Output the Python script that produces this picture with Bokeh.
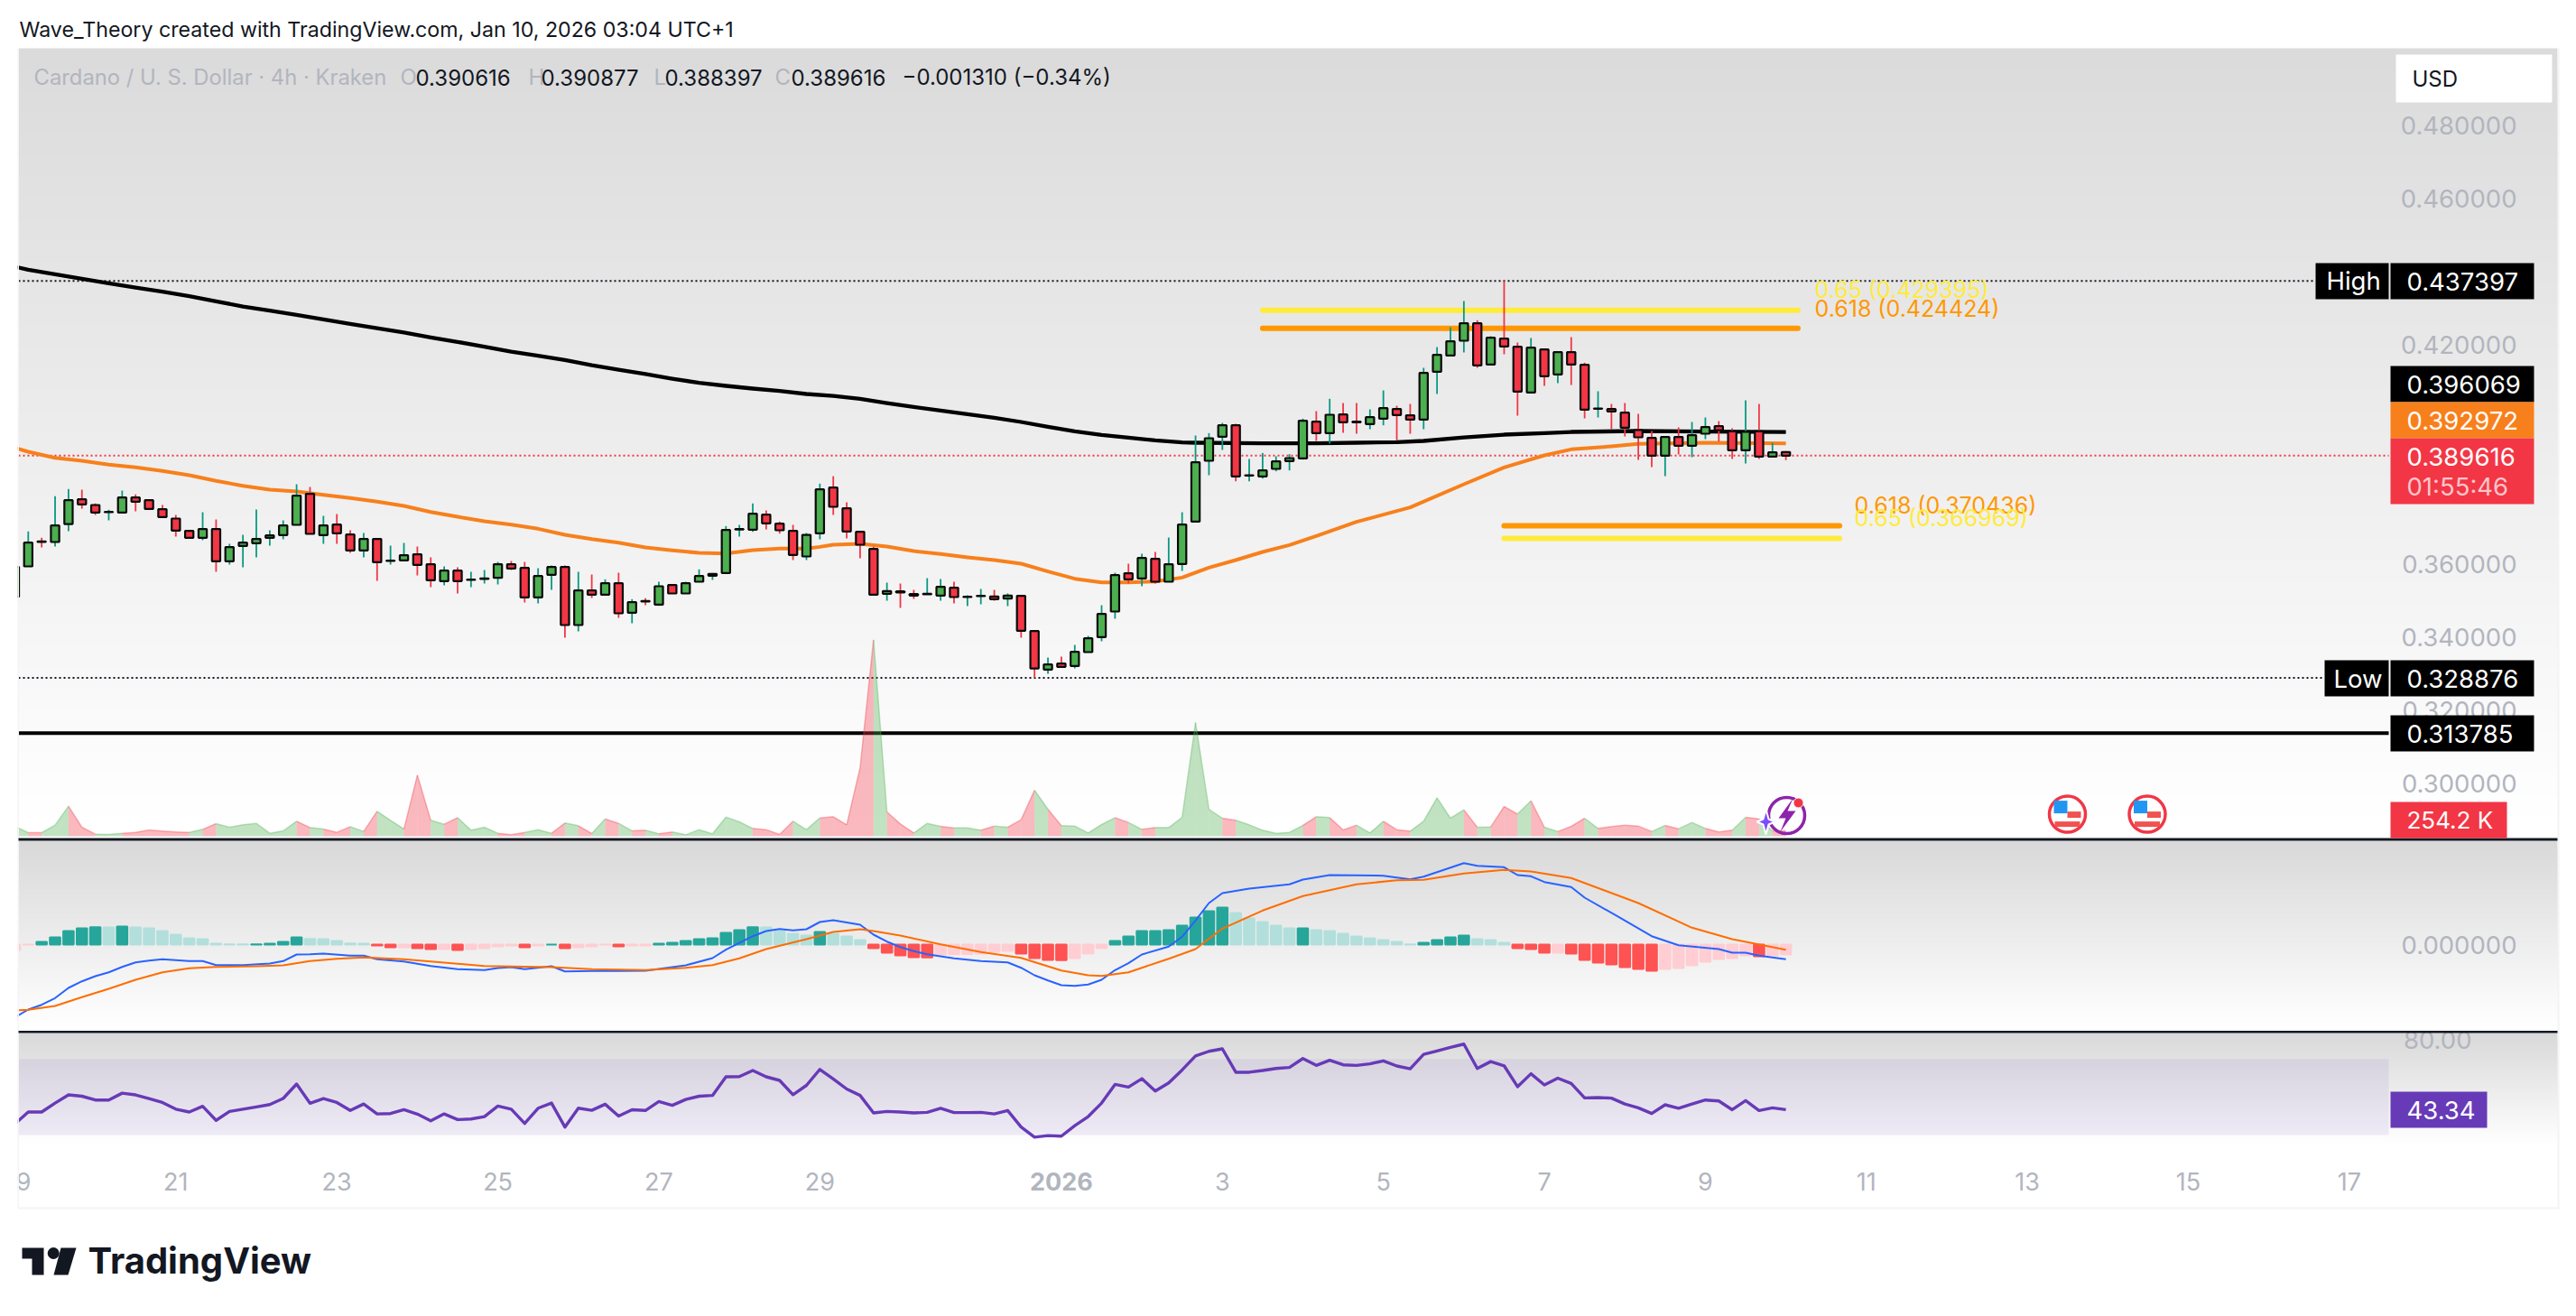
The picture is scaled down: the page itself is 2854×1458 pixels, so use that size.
from bokeh.plotting import figure
from bokeh.models import Range1d, LinearAxis, FixedTicker, NumeralTickFormatter
from bokeh.core.properties import value
from bokeh.embed import file_html
from bokeh.resources import INLINE

# ---------------- data ----------------
open_ = [.35104,.35935,.36618,.36601,.37094,.37769,.37613,.37415,.37407,.37818,
.37744,.37498,.37243,.36905,.36716,.36955,.36075,.36494,.36568,.36716,
.36790,.37070,.37917,.36790,.37078,.36807,.36371,.36683,.36083,.36099,
.36264,.35992,.35532,.35820,.35565,.35590,.35622,.35992,.35894,.35088,
.35705,.35918,.34331,.35277,.35162,.35474,.34668,.34989,.34890,.35425,
.35195,.35515,.35680,.35754,.36946,.36938,.37349,.37103,.36905,.36206,
.36840,.38090,.37522,.36881,.36412,.35186,.35252,.35178,.35170,.35137,
.35351,.35096,.35121,.35112,.35055,.35129,.34166,.33114,.33278,.33212,
.33591,.34002,.34701,.35746,.35606,.36140,.35515,.36001,.37160,.38822,
.39480,.39792,.38419,.38394,.38600,.38814,.38888,.39891,.39578,.40088,
.39891,.39825,.39973,.40236,.40064,.39949,.41256,.41700,.42104,.42581,
.41454,.42161,.41939,.40689,.41865,.41182,.41791,.41446,.40245,.40236,
.40138,.39661,.39447,.38962,.39472,.39233,.39562,.39768,.39628,.39110,
.39628,.38937,.390616]
high = [.35918,.36889,.36716,.37851,.38049,.38032,.37654,.37481,.38007,.37901,
.37744,.37613,.37341,.36905,.37415,.37218,.36552,.36798,.37489,.36922,
.37193,.38180,.38106,.37317,.37366,.36922,.36848,.36683,.36502,.36576,
.36478,.36182,.35935,.35910,.35787,.35836,.36058,.36083,.36058,.35885,
.35959,.35959,.35787,.35713,.35581,.35762,.35038,.35063,.35515,.35425,
.35515,.35853,.35754,.37037,.37070,.37654,.37465,.37160,.37070,.36848,
.38197,.38402,.37687,.36881,.36469,.35491,.35466,.35293,.35614,.35589,
.35515,.35145,.35318,.35293,.35195,.35129,.34166,.33443,.33467,.33788,
.34035,.34874,.35762,.36009,.36280,.36330,.36724,.37415,.39513,.39578,
.39858,.39834,.38871,.39036,.38945,.39003,.39973,.40179,.40516,.40401,
.40401,.40228,.40746,.40327,.40376,.41363,.41931,.42474,.43189,.42663,
.42227,.43740,.42054,.42178,.41865,.41791,.42202,.41503,.40722,.40376,
.40401,.40105,.39636,.39472,.39735,.39883,.40006,.39907,.39710,.40475,
.40376,.39315,.390877]
low = [.35104,.35935,.36453,.36478,.36897,.37514,.37341,.37193,.37407,.37440,
.37506,.37284,.36749,.36716,.36650,.35787,.35984,.35910,.36182,.36502,
.36675,.37070,.36823,.36552,.36552,.36305,.36182,.35540,.35984,.36099,
.35688,.35367,.35417,.35195,.35367,.35466,.35441,.35836,.34948,.34923,
.35293,.33985,.34158,.35071,.35162,.34528,.34380,.34874,.34857,.35195,
.35195,.35515,.35565,.35754,.36749,.36881,.36946,.36831,.36107,.36107,
.36675,.37341,.36700,.36157,.35162,.34997,.34800,.35046,.35170,.34997,
.34923,.34849,.34898,.34997,.34849,.33985,.32888,.32998,.33188,.33146,
.33591,.33887,.34504,.35466,.35392,.35466,.35515,.35811,.37160,.38427,
.39118,.38262,.38262,.38336,.38534,.38559,.38855,.39365,.39291,.39587,
.39562,.39685,.39792,.39381,.39562,.39685,.40648,.41700,.41783,.41363,
.41454,.41733,.40055,.40689,.40870,.40944,.40894,.39981,.40006,.39685,
.39488,.38847,.38649,.38402,.38994,.38920,.39414,.39348,.38871,.38748,
.38871,.38937,.388397]
close = [.35918,.36585,.36601,.37053,.37744,.37629,.37407,.37423,.37818,.37703,
.37506,.37284,.36914,.36716,.36955,.36075,.36461,.36585,.36683,.36782,
.37053,.37868,.36823,.37053,.36840,.36371,.36683,.36050,.36091,.36239,
.35976,.35556,.35820,.35532,.35573,.35606,.35992,.35877,.35088,.35672,
.35918,.34331,.35277,.35162,.35474,.34652,.34956,.34973,.35392,.35195,
.35474,.35672,.35729,.36930,.36955,.37374,.37111,.36922,.36247,.36798,
.38040,.37563,.36889,.36527,.35162,.35260,.35219,.35137,.35186,.35376,
.35096,.35104,.35129,.35038,.35137,.34175,.33146,.33254,.33188,.33599,
.33969,.34635,.35696,.35581,.36165,.35515,.35992,.37078,.38781,.39439,
.39792,.38394,.38427,.38559,.38805,.38896,.39916,.39578,.40080,.39875,
.39875,.40014,.40261,.40072,.39949,.41223,.41717,.42087,.42581,.41429,
.42186,.41947,.40713,.41914,.41133,.41791,.41454,.40220,.40253,.40171,
.39726,.39463,.38962,.39472,.39233,.39521,.39743,.39661,.39110,.39611,
.38937,.39052,.389616]
volume_k = [462,168,168,518,1400,420,98,84,140,182,294,238,196,182,322,588,420,532,602,140,
252,700,406,336,182,448,224,1162,742,336,2842,742,560,868,280,420,140,70,182,308,
140,616,490,126,812,602,252,280,112,196,70,308,112,896,672,364,308,84,700,308,
854,910,532,3192,9142,1134,574,154,602,462,392,392,280,476,420,770,2142,1260,490,476,
154,546,868,644,322,406,406,882,5292,1260,840,742,532,280,140,182,504,910,868,294,
518,154,700,308,238,700,1792,840,1232,420,434,1386,1036,1652,420,224,462,840,364,448,
518,476,224,504,350,644,364,196,280,882,812,252,254.2]

sma_idx = [-1,0,2,4,6,8,10,12,14,16,18,20,22,24,26,28,30,32,34,36,38,40,42,44,46,48,50,52,54,56,58,60,62,64,66,68,70,72,74,76,78,80,82,84,86,87,90,92,94,96,99,102,104,107,110,113,115,120,125,131]
sma_val = [.44127,.44045,.43921,.43798,.43675,.43559,.43444,.43321,.43181,.43041,.42926,.42811,.42687,.42564,.42449,.42326,.42194,.42071,.41939,.41807,.41692,.41577,.41437,.41314,.41191,.41067,.40952,.40870,.40796,.40730,.40648,.40598,.40516,.40401,.40294,.40195,.40097,.39998,.39883,.39751,.39628,.39529,.39455,.39381,.39324,.39315,.39307,.39299,.39299,.39299,.39315,.39332,.39365,.39463,.39537,.39578,.39611,.39636,.39620,.396069]
ema_idx = [-1,0,2,4,6,8,10,12,14,16,18,20,22,24,26,28,30,32,34,36,38,40,42,44,46,48,50,52,54,56,58,59,60,62,64,66,68,70,72,74,76,78,80,82,84,86,88,90,92,94,96,99,103,107,110,113,115,118,120,125,131]
ema_val = [.39175,.39068,.38904,.38822,.38715,.38641,.38542,.38427,.38271,.38139,.38032,.37983,.37892,.37802,.37703,.37588,.37423,.37292,.37169,.37078,.36963,.36798,.36683,.36585,.36453,.36371,.36305,.36288,.36379,.36420,.36420,.36469,.36527,.36552,.36478,.36354,.36272,.36182,.36107,.36009,.35795,.35598,.35499,.35499,.35524,.35630,.35902,.36107,.36330,.36519,.36765,.37152,.37547,.38180,.38641,.38970,.39134,.39217,.39282,.39315,.392972]

fib_upper = [0.429395, 0.424424]
fib_lower = [0.370436, 0.366969]
price_high, price_low, price_last, price_support = 0.437397, 0.328876, 0.389616, 0.313785
price_ticks = [.48,.46,.42,.36,.34,.32,.30]

# MACD panel, in units of 1e-4
hist_e4 = [-6.3,-0.1,3,8,15,18,19.3,19,20,19,18,15,11,7,6,1,0.3,0.2,0.3,1,3,8,6.2,6,4,1.2,1,
-1,-3,-3,-4,-5,-5,-6,-5,-4,-2,-1,-3,-1,0,-4,-3,-2,-0.1,-2,-1,-1,
1,2,4,6,7,13,16,19.2,19,15,12,10,14,12,9,5,
-4,-9,-12,-14,-14.2,-11,-10.8,-10.4,-10,-8,-7,-10,-15,-17,-17.2,-15,-10,-4,
4,9,15,15,16,21,30,37,41,35,29,25,21,18,18,16,15,12,9,7,5,3,0.3,2,5,8,10,6,5,2,
-4,-5,-9,-9,-10,-17,-20,-22,-25,-27,-29,-27,-26,-23,-19,-16,-15,-12,-13,-12,-11]
macd_idx = [-1,0,1,2,3,4,5,6,7,8,9,10,12,13,14,16,18,19,20,21,22,24,25,26,28,30,32,34,35,36,37,39,40,42,44,46,48,49,51,52,54,55,56,57,58,59,60,62,63,64,65,66,67,69,71,73,74,75,76,77,78,79,80,81,82,83,85,86,87,88,89,91,94,95,97,101,103,104,107,108,110,111,112,113,115,116,119,121,123,126,127,128,129,131]
macd_e4 = [-80.7,-72,-66.7,-59.3,-48,-40.7,-35,-30.7,-24.7,-19.7,-17.7,-16.3,-18.3,-18.3,-22.7,-22.7,-21,-18.3,-11,-10.7,-10,-12.3,-12.3,-16.3,-18.7,-23.7,-27.3,-28.3,-26,-25,-27.3,-24,-29.7,-29.3,-29.3,-29,-25,-23,-15,-5.7,9.3,15,17.3,15.7,17,25,27,22,11,3.3,-2.7,-7.3,-10.7,-15.3,-18.3,-19.7,-25.7,-34,-39.7,-45,-45.7,-44.3,-39,-28.3,-20.7,-11,-2.3,8.7,26.7,46,57,62,66.7,72,77,76.3,72.3,75.3,90.3,87.3,85.7,77,75.7,69.3,63.7,52,26.7,9.3,-0.7,-5,-9,-9,-12.3,-16.3]
signal_idx = [-1,0,2,4,6,8,10,12,14,17,19,21,23,25,28,31,34,39,42,46,49,51,53,55,58,60,62,63,65,68,71,74,77,79,80,82,85,87,89,92,95,99,102,104,107,110,112,115,120,124,127,131]
signal_e4 = [-73,-72.3,-68,-58.3,-49,-39,-30.7,-26.3,-24.7,-24,-23,-18.3,-15.7,-14.3,-16.3,-20,-23.7,-25,-27.3,-28.3,-25.7,-22.7,-15.3,-5,6,14,17,15,10,0.3,-8.3,-14.7,-28.7,-34,-34.7,-30.7,-15.7,-5,17.7,37.7,53.7,66.7,71.3,71.7,78.7,82.7,81,73.7,46,18.7,6,-5.7]

rsi = [35.8,42.1,42.1,46.8,51.1,50.4,48.4,48.4,52,51.1,49.2,47.1,43.6,42.1,45.1,37.7,42.4,43.6,44.8,46,49.2,56.8,46.7,49.2,47.1,42.9,46.3,41.1,41.3,43.3,41,37.5,41.1,38.1,38.4,39.7,45.2,43.6,36.1,44.1,46.8,34.2,44.1,43,46.2,40,43.3,42.9,47.6,45.6,48.7,50.4,50.8,60.6,60.7,63.9,60.6,58.7,51.2,56.1,64.5,59.5,54.2,50.8,41.6,42.4,42.1,
41.6,41.9,44.1,41.8,41.8,41.9,41.1,42.9,34.2,28.9,29.7,29.4,34.9,39.7,46.8,56.6,55.2,59.6,53.1,57.4,64.2,71.6,74,75.3,63,63,63.9,65,65.5,70.2,66.6,69.3,66.9,66.6,67.4,69,66.3,64.8,72.4,74.2,76.1,77.8,65,68.6,66.4,55.4,62.2,56.3,59.9,57.1,49.5,49.7,49.4,46.3,44.3,41.3,45.9,44.1,46.3,48.4,47.9,43.3,48.1,42.9,44.3,43.34]

day_ticks = [11,23,35,47,59,89,101,113,125,137,149,161,173]
day_labels = ["21","23","25","27","29","3","5","7","9","11","13","15","17"]
assert len(open_)==len(high)==len(low)==len(close)==len(volume_k)==len(hist_e4)==len(rsi)==133, (len(open_),len(high),len(low),len(close),len(volume_k),len(hist_e4),len(rsi))

# ---------------- scales: one frame covers the whole page area ----------------
PX0, PX1, PY0, PY1 = 0, 2846, 0, 1450
XC0, XD = 30.8, 14.865                 # page x of candle 0, candle spacing
def ix(px): return (px - XC0) / XD
def yr(slope, anchor_val, anchor_px):  # value = anchor_val + (anchor_px - py) * slope
    return Range1d(start=anchor_val + (anchor_px - PY1) * slope, end=anchor_val + (anchor_px - PY0) * slope)

price_rng = yr(1/4052.7, price_high, 310.7)
p = figure(width=PX1-PX0, height=PY1-PY0, output_backend="svg", toolbar_location=None,
           x_range=Range1d(ix(PX0), ix(PX1)), y_range=price_rng,
           x_axis_type=None, y_axis_type=None, min_border=0, min_border_left=0, min_border_right=0,
           min_border_top=0, min_border_bottom=0, outline_line_color=None, background_fill_color="white",
           border_fill_color="white")
p.grid.visible = False
p.extra_x_ranges = {"px": Range1d(PX0, PX1)}
p.extra_y_ranges = {"px": Range1d(PY1, PY0), "vol": yr(42, 0, 926), "macd": yr(1, 0, 1046), "rsi": yr(1/2.108, 30, 1257)}
PXR = dict(x_range_name="px", y_range_name="px")

FONT = "Inter"
GREY = "#b2b5be"

def gradient(x0, x1, top, bottom, start_gray):
    n = 255 - start_gray
    xs0, xs1, ys0, ys1, cols = [], [], [], [], []
    for k in range(n + 1):
        g = start_gray + k
        xs0.append(x0); xs1.append(x1); ys0.append(top + (bottom - top) * k / (n + 1)); ys1.append(bottom)
        cols.append("#%02x%02x%02x" % (g, g, g))
    p.quad(left=xs0, right=xs1, top=ys0, bottom=ys1, fill_color=cols, line_color=None, **PXR)

def box(x0, x1, y0, y1, color, level="annotation"):
    p.quad(left=[x0], right=[x1], top=[y0], bottom=[y1], fill_color=color, line_color=None, level=level, **PXR)

def text(x, y, t, size=27.5, color="#131722", align="left", style="normal", font=FONT):
    p.text(x=[x], y=[y], text=[t], text_font=value(font), text_font_size=value(f"{size}px"), text_color=color,
           text_align=align, text_baseline="middle", text_font_style=style, level="overlay", **PXR)

# pane backgrounds
gradient(20, 2833, 53, 928, 219)
gradient(20, 2833, 931, 1142, 217)
gradient(20, 2833, 1144, 1270, 217)
# RSI band
p.quad(left=[20], right=[2646], top=[1172.7], bottom=[1257], fill_color="#7e57c2", fill_alpha=0.1, line_color=None, **PXR)

# support / high / low / last price lines
X_R = dict(x_range_name="px")
p.line([20, 2565], [price_high]*2, line_color="#131722", line_width=2, line_dash=[2, 3], **X_R)
p.line([20, 2575], [price_low]*2, line_color="#131722", line_width=2, line_dash=[2, 3], **X_R)
p.line([20, 2646], [price_last]*2, line_color="#f23645", line_width=2, line_dash=[2, 3], **X_R)
p.line([20, 2646], [price_support]*2, line_color="#000000", line_width=4, **X_R)

# fib zones
p.segment(x0=[92.0]*2, x1=[131.9]*2, y0=fib_upper, y1=fib_upper, line_color=["#ffeb3b", "#ff9800"], line_width=6, line_cap="round")
p.segment(x0=[110.0]*2, x1=[135.0]*2, y0=fib_lower, y1=fib_lower, line_color=["#ff9800", "#ffeb3b"], line_width=6, line_cap="round")

# moving averages
p.line(sma_idx, sma_val, line_color="#000000", line_width=4.3, line_join="round")
p.line(ema_idx, ema_val, line_color="#f7801c", line_width=4, line_join="round")

# candles
idx = list(range(-1, 132))
up = [c >= o for o, c in zip(open_, close)]
p.segment(x0=idx, x1=idx, y0=high, y1=low, line_width=1.8, line_color=["#089981" if u else "#f23645" for u in up])
p.vbar(x=idx, width=0.62, top=[max(o, c) for o, c in zip(open_, close)], bottom=[min(o, c) for o, c in zip(open_, close)],
       fill_color=["#4caf50" if u else "#f23645" for u in up], line_color="#0a0a0a", line_width=2.2)

# volume area, one band per candle, coloured by that candle
xs, ys, fc, lx, ly = [], [], [], [], []
for i in range(1, len(idx)):
    xs.append([idx[i-1], idx[i], idx[i], idx[i-1]])
    ys.append([volume_k[i-1], volume_k[i], 0, 0])
    fc.append("#4caf50" if up[i] else "#f23645")
    lx.append([idx[i-1], idx[i]]); ly.append([volume_k[i-1], volume_k[i]])
p.patches(xs, ys, fill_color=fc, fill_alpha=0.35, line_color=None, y_range_name="vol")
p.multi_line(lx, ly, line_color=fc, line_alpha=0.35, line_width=1.5, y_range_name="vol")

# MACD
def hist_color(v, prev):
    if v >= 0:
        return "#26a69a" if v >= prev else "#b2dfdb"
    return "#ff5252" if v < prev else "#ffcdd2"
hc = [hist_color(v, hist_e4[max(i-1, 0)]) for i, v in enumerate(hist_e4)]
p.vbar(x=idx, width=0.78, top=hist_e4, bottom=0, fill_color=hc, line_color=hc, line_width=2, y_range_name="macd")
p.line(macd_idx, macd_e4, line_color="#2962ff", line_width=2, y_range_name="macd", line_join="round")
p.line(signal_idx, signal_e4, line_color="#ff6d00", line_width=2, y_range_name="macd", line_join="round")

# RSI
p.line(idx, rsi, line_color="#673ab7", line_width=3.4, y_range_name="rsi", line_join="round")

# white margins and frame
box(PX0, 19, 53, 1338, "white")
box(19, 20.5, 53, 1338, "#f4f4f6")
box(2833, 2835, 53, 1338, "#f4f4f6")
box(20, 2835, 1337, 1339, "#f4f4f6")
box(20, 2833, 928, 931, "#131722")
box(20, 2833, 1141.5, 1144, "#131722")

# axes (real tick labels, fixed inside the pane)
def yaxis(ticks, fmt, rng=None, right_px=2794):
    kw = dict(y_range_name=rng) if rng else {}
    a = LinearAxis(ticker=FixedTicker(ticks=ticks), formatter=NumeralTickFormatter(format=fmt),
                   fixed_location=ix(right_px + 6), axis_line_color=None, major_tick_line_color=None, minor_tick_line_color=None,
                   major_label_text_color=GREY, major_label_text_font=FONT, major_label_text_font_size="27.5px",
                   major_label_standoff=6, **kw)
    p.add_layout(a, "left")
yaxis(price_ticks, "0.000000")
yaxis([0], "0.000000", "macd")
yaxis([80], "0.00", "rsi", right_px=2744)

price_at = lambda py: price_high + (310.7 - py) / 4052.7
def xaxis(ticks, labels, style="normal"):
    a = LinearAxis(ticker=FixedTicker(ticks=ticks), major_label_overrides=dict(zip(ticks, labels)),
                   fixed_location=price_at(1290), axis_line_color=None, major_tick_line_color=None, minor_tick_line_color=None,
                   major_label_text_color=GREY, major_label_text_font=FONT, major_label_text_font_size="27px",
                   major_label_text_font_style=style, major_label_standoff=2)
    p.add_layout(a, "below")
xaxis(day_ticks, day_labels)
xaxis([77], ["2026"], "bold")
xaxis([-0.35], ["9"])

# price tags
for (y0, y1, col, t) in [(291, 331, "#000000", "0.437397"), (405, 445, "#000000", "0.396069"), (445, 485, "#f7801c", "0.392972"),
                         (731, 771, "#000000", "0.328876"), (792, 832, "#000000", "0.313785")]:
    box(2648, 2807, y0, y1, col, "overlay")
    text(2666, (y0 + y1) / 2, t, color="white")
box(2648, 2807, 485, 558, "#f23645", "overlay")
text(2666, 505, "0.389616", color="white")
text(2666, 538, "01:55:46", color="#fcc5ca")
box(2565, 2646, 291, 331, "#000000", "overlay")
text(2577, 310, "High", color="white")
box(2575, 2646, 731, 771, "#000000", "overlay")
text(2585, 751, "Low", color="white")
box(2648, 2777, 888, 928, "#f23645", "overlay")
text(2666, 908, "254.2 K", 26, color="white")
box(2648, 2755, 1209, 1249, "#673ab7", "overlay")
text(2666, 1229, "43.34", color="white")

# fib labels
text(2010, 320.4, "0.65 (0.429395)", 25, "#ffeb3b")
text(2010, 341, "0.618 (0.424424)", 25, "#ff9800")
text(2054, 559, "0.618 (0.370436)", 25, "#ff9800")
text(2054, 573, "0.65 (0.366969)", 25, "#ffeb3b")

# header and legend
text(21, 32, "Wave_Theory created with TradingView.com, Jan 10, 2026 03:04 UTC+1", 23.2)
text(37, 85, "Cardano / U. S. Dollar · 4h · Kraken", 23.8, GREY)
for x, letter, vx, val in [(443, "O", 460, "0.390616"), (585, "H", 599, "0.390877"), (724, "L", 736, "0.388397"), (858, "C", 876, "0.389616")]:
    text(x, 85, letter, 24, GREY)
    text(vx, 85, val, 24)
text(999, 85, "−0.001310 (−0.34%)", 24)

# USD button
box(2654, 2827, 60, 113, "white", "overlay")
text(2672, 87, "USD", 24)

# flags
for cx in [2290, 2378.5]:
    cy = 901.6
    p.scatter(x=[cx], y=[cy], marker="circle", size=40, fill_color="white", line_color="#f23645", line_width=3.5, level="overlay", **PXR)
    box(cx-15, cx, cy-15, cy-1, "#2196f3", "overlay")
    box(cx, cx+15, cy-3, cy+4, "#ef5350", "overlay")
    box(cx-14, cx+14, cy+8, cy+14, "#ef5350", "overlay")

# sparkle and bolt icons
p.scatter(x=[1979], y=[903], marker="circle", size=40, fill_color=None, line_color="#8e24aa", line_width=3.5, level="overlay", **PXR)
p.patch(x=[1986, 1970, 1978, 1972, 1989, 1980], y=[884, 906, 906, 921, 898, 898], fill_color="#8e24aa", line_color=None, level="overlay", **PXR)
p.patch(x=[1956, 1959, 1966, 1959, 1956, 1953, 1946, 1953], y=[896, 907, 910, 913, 924, 913, 910, 907],
        fill_color="#7c4dff", line_color="white", line_width=2, level="overlay", **PXR)
p.scatter(x=[1992], y=[889], marker="circle", size=11, fill_color="#f23645", line_color="white", level="overlay", **PXR)

# logo
LOGO = "#131722"
p.patch(x=[24, 48, 48, 35, 35, 24], y=[1382, 1382, 1412, 1412, 1394, 1394], fill_color=LOGO, line_color=None, **PXR)
p.scatter(x=[58.7], y=[1388], marker="circle", size=13, fill_color=LOGO, line_color=None, **PXR)
p.patch(x=[67, 84, 75, 59], y=[1382, 1382, 1412, 1412], fill_color=LOGO, line_color=None, **PXR)
text(97, 1396, "TradingView", 40, LOGO, style="bold")

open("out.html", "w").write(file_html(p, INLINE))
